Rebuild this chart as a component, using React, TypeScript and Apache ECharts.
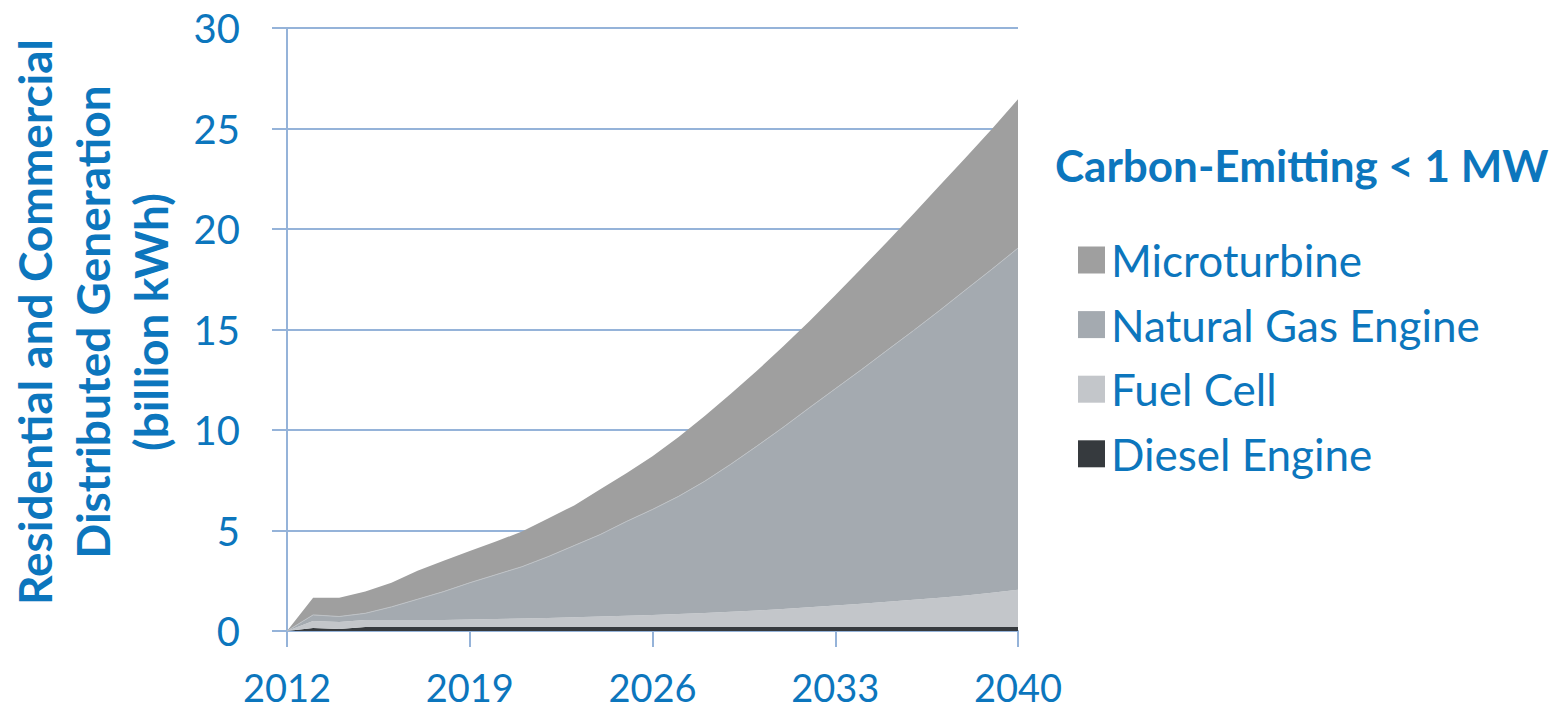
import React, { useEffect, useRef } from "react";
import * as echarts from "echarts";

const years = [
  "2012", "2013", "2014", "2015", "2016", "2017", "2018", "2019", "2020", "2021",
  "2022", "2023", "2024", "2025", "2026", "2027", "2028", "2029", "2030", "2031",
  "2032", "2033", "2034", "2035", "2036", "2037", "2038", "2039", "2040",
];

const dieselEngine = [
  0, 0.15, 0.1, 0.2, 0.2, 0.2, 0.2, 0.2, 0.2, 0.2,
  0.2, 0.2, 0.2, 0.2, 0.2, 0.2, 0.2, 0.2, 0.2, 0.2,
  0.2, 0.2, 0.2, 0.2, 0.2, 0.2, 0.2, 0.2, 0.2,
];

const fuelCell = [
  0, 0.35, 0.35, 0.35, 0.35, 0.35, 0.35, 0.37, 0.4, 0.42,
  0.45, 0.48, 0.52, 0.56, 0.6, 0.65, 0.7, 0.76, 0.82, 0.9,
  0.98, 1.07, 1.16, 1.25, 1.35, 1.45, 1.56, 1.7, 1.85,
];

const naturalGasEngine = [
  0, 0.3, 0.27, 0.33, 0.65, 1.03, 1.41, 1.83, 2.2, 2.58,
  3.05, 3.57, 4.08, 4.69, 5.25, 5.85, 6.55, 7.34, 8.18, 9.03,
  9.92, 10.78, 11.64, 12.53, 13.4, 14.3, 15.22, 16.1, 17.0,
];

const microturbine = [
  0, 0.86, 0.94, 1.08, 1.2, 1.42, 1.54, 1.58, 1.65, 1.75,
  1.9, 2.0, 2.25, 2.4, 2.65, 2.95, 3.25, 3.5, 3.75, 4.02,
  4.3, 4.65, 5.03, 5.4, 5.81, 6.21, 6.58, 6.98, 7.4,
];

const legendTitle = "Carbon-Emitting < 1 MW";
const yTitle = "Residential and Commercial\nDistributed Generation\n(billion kWh)";

const BLUE = "#0C76BD";
const GRID = "#95B3D9";
const FONT = "Lato";

const seriesDefs = [
  { name: "Diesel Engine", data: dieselEngine, color: "#363A3E", line: 0, lineColor: "#363A3E" },
  { name: "Fuel Cell", data: fuelCell, color: "#C3C6CA", line: 0, lineColor: "#C3C6CA" },
  { name: "Natural Gas Engine", data: naturalGasEngine, color: "#A4AAB0", line: 1, lineColor: "#BEC2C6" },
  { name: "Microturbine", data: microturbine, color: "#9F9F9F", line: 0, lineColor: "#9F9F9F" },
];

export default function App() {
  const ref = useRef<HTMLDivElement>(null);

  useEffect(() => {
    if (!ref.current) return;
    const chart = echarts.init(ref.current, undefined, { renderer: "svg" });
    const legendOrder = ["Microturbine", "Natural Gas Engine", "Fuel Cell", "Diesel Engine"];
    chart.setOption({
      animation: false,
      backgroundColor: "#ffffff",
      textStyle: { fontFamily: FONT },
      title: {
        text: legendTitle,
        left: 1050,
        top: 138,
        textStyle: { fontFamily: FONT, fontSize: 44, fontWeight: "bold", color: BLUE },
      },
      legend: {
        orient: "vertical",
        left: 1073,
        top: 233,
        itemWidth: 27,
        itemHeight: 27,
        itemGap: 20.6,
        icon: "rect",
        data: legendOrder.map((n) => {
          const d = seriesDefs.find((s) => s.name === n)!;
          return { name: n, itemStyle: { color: d.color, borderWidth: 0 } };
        }),
        textStyle: {
          fontFamily: FONT,
          fontSize: 44,
          color: BLUE,
          lineHeight: 40,
          padding: [0, 0, 0, 1],
        },
      },
      grid: { left: 287, right: 535, top: 28, bottom: 80 },
      xAxis: {
        type: "category",
        boundaryGap: false,
        data: years,
        axisLine: { show: true, lineStyle: { color: GRID, width: 2 } },
        axisTick: { show: true, interval: 6, length: 16, lineStyle: { color: GRID, width: 2 } },
        axisLabel: { interval: 6, fontSize: 38, lineHeight: 32, color: BLUE, fontFamily: FONT, margin: 40 },
        splitLine: { show: false },
      },
      yAxis: {
        type: "value",
        min: 0,
        max: 30,
        interval: 5,
        axisLine: { show: true, lineStyle: { color: GRID, width: 2 } },
        axisTick: { show: true, length: 15, lineStyle: { color: GRID, width: 2 } },
        axisLabel: { fontSize: 40, color: BLUE, fontFamily: FONT, margin: 47 },
        splitLine: { show: true, lineStyle: { color: GRID, width: 2 } },
      },
      graphic: [
        {
          type: "text",
          x: 92,
          y: 322,
          rotation: Math.PI / 2,
          style: {
            text: yTitle,
            fill: BLUE,
            font: `bold 46px ${FONT}`,
            align: "center",
            verticalAlign: "middle",
            lineHeight: 58,
          },
        },
      ],
      series: seriesDefs.map((s) => ({
        name: s.name,
        type: "line",
        stack: "total",
        data: s.data,
        symbol: "none",
        showSymbol: false,
        color: s.color,
        itemStyle: { color: s.color },
        lineStyle: { width: s.line, color: s.lineColor },
        areaStyle: { color: s.color, opacity: 1 },
        z: 3,
      })),
    });
    return () => chart.dispose();
  }, []);

  return (
    <div
      ref={ref}
      style={{ position: "fixed", left: 0, top: 0, width: 1553, height: 711, background: "#fff" }}
    />
  );
}
